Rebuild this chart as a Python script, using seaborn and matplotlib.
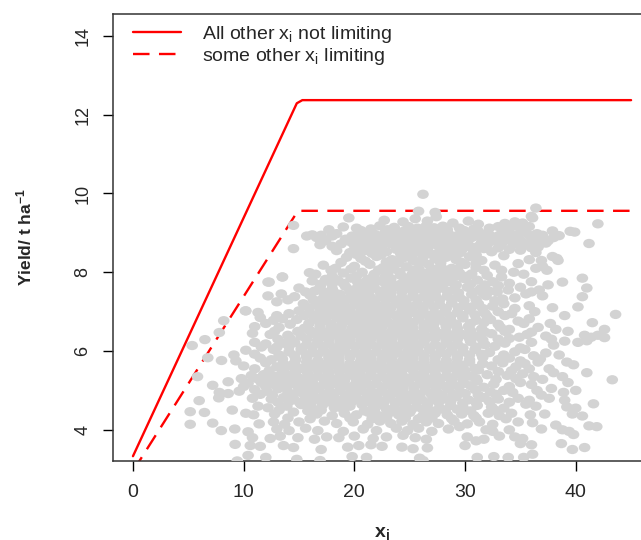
import matplotlib
matplotlib.use("Agg")
import pandas as pd
import matplotlib.pyplot as plt
import seaborn as sns
from matplotlib.path import Path
from matplotlib.markers import MarkerStyle

# boundary lines
solid_x = [0, 14.8, 15.3, 45]
solid_y = [3.33, 12.29, 12.37, 12.37]
dashed_x = [0, 14.9, 45]
dashed_y = [2.95, 9.56, 9.56]

legend_labels = [r"All other x$_\mathregular{i}$ not limiting",
                 r"some other x$_\mathregular{i}$ limiting"]
x_ticks = [0, 10, 20, 30, 40]
y_ticks = [4, 6, 8, 10, 12, 14]

# scatter points, estimated band by band (x, yield)
pts_top = [
    (19.5, 9.38), (22.7, 9.32), (24.4, 9.28), (25.5, 9.36), (26.6, 9.30), (27.4, 9.41), (28.9, 9.25), (30.3, 9.30),
    (31.2, 9.22), (33.6, 9.24), (34.5, 9.28), (35.2, 9.25), (36.1, 9.38),
    (17.7, 9.08), (19.0, 9.15), (20.2, 9.12), (21.5, 9.10), (22.3, 9.18), (23.6, 9.14), (24.9, 9.16), (25.7, 9.12),
    (26.5, 9.18), (27.2, 9.13), (28.0, 9.17), (29.5, 9.12), (30.8, 9.10), (32.2, 9.12), (33.0, 9.16), (34.1, 9.14),
    (35.0, 9.12), (35.8, 9.16), (37.9, 9.05),
    (20.6, 9.06), (23.0, 9.08), (24.6, 9.06), (26.2, 9.10), (27.0, 9.04), (28.4, 9.08), (29.9, 9.06), (31.2, 9.04),
    (33.8, 9.06), (35.4, 9.10),
    (16.2, 8.95), (18.4, 8.98), (19.8, 8.92), (20.8, 9.00), (21.9, 8.96), (22.8, 9.02), (23.4, 8.94), (24.2, 9.02),
    (25.0, 8.97), (25.9, 9.00), (26.8, 8.95), (27.6, 9.02), (28.5, 8.98), (29.3, 8.93), (30.1, 9.00), (31.5, 8.97),
    (32.3, 8.93), (33.4, 9.00), (34.6, 8.95), (35.4, 9.02), (36.5, 8.98), (37.0, 8.94), (38.5, 8.93),
    (17.0, 8.94), (18.0, 8.92), (20.0, 8.90), (21.5, 8.94), (22.4, 8.90), (23.7, 8.92), (24.5, 8.94), (25.3, 8.90),
    (26.1, 8.92), (27.0, 8.90), (27.8, 8.94), (28.6, 8.92), (29.5, 8.90), (30.9, 8.92), (31.8, 8.90), (33.1, 8.94),
    (34.2, 8.90), (35.8, 8.94), (36.8, 8.88),
    (15.7, 8.92), (16.6, 8.88), (17.4, 8.80), (19.2, 8.84), (20.4, 8.86), (21.2, 8.82), (22.1, 8.88), (23.0, 8.84),
    (23.9, 8.86), (24.7, 8.82), (25.5, 8.86), (26.3, 8.83), (27.1, 8.87), (27.9, 8.82), (28.8, 8.85), (29.8, 8.83),
    (30.6, 8.88), (31.9, 8.84), (32.7, 8.80), (33.8, 8.86), (34.9, 8.84), (36.1, 8.86), (37.5, 8.80), (38.0, 8.88),
    (19.6, 8.78), (20.9, 8.76), (21.8, 8.78), (22.7, 8.76), (23.6, 8.78), (24.4, 8.76), (25.9, 8.78), (26.7, 8.76),
    (28.5, 8.78), (29.4, 8.76), (30.0, 8.78), (31.5, 8.76), (32.2, 8.78), (33.4, 8.76), (34.2, 8.80), (35.2, 8.76),
    (36.4, 8.78),
    (16.9, 8.70), (18.0, 8.66), (18.8, 8.72), (20.0, 8.68), (21.6, 8.72), (22.5, 8.68), (23.3, 8.72), (24.3, 8.68),
    (25.1, 8.70), (26.0, 8.66), (26.9, 8.72), (27.5, 8.68), (28.3, 8.72), (29.1, 8.66), (30.3, 8.70), (31.2, 8.66),
    (32.0, 8.70), (33.2, 8.68), (34.4, 8.72), (35.6, 8.70), (36.6, 8.64), (37.3, 8.74),
    (20.5, 8.62), (21.3, 8.60), (22.0, 8.62), (24.0, 8.60), (25.5, 8.62), (26.6, 8.60), (28.0, 8.62), (29.8, 8.60),
    (30.6, 8.62), (31.7, 8.60), (33.0, 8.62), (34.0, 8.58), (36.0, 8.62),
    (18.4, 8.55), (19.6, 8.50), (21.0, 8.55), (22.9, 8.52), (23.8, 8.58), (24.8, 8.55), (25.7, 8.52), (26.5, 8.56),
    (27.7, 8.52), (28.7, 8.58), (29.6, 8.50), (30.8, 8.55), (32.4, 8.52), (35.0, 8.56), (36.4, 8.50),
]

pts_upper = [
    (20.2, 8.45), (21.6, 8.48), (22.4, 8.44), (24.2, 8.46), (25.2, 8.44), (27.0, 8.46), (28.0, 8.44), (29.0, 8.46),
    (31.0, 8.44), (33.5, 8.42), (37.9, 8.40),
    (19.3, 8.38), (20.6, 8.35), (22.0, 8.40), (23.4, 8.32), (24.4, 8.36), (25.3, 8.30), (26.2, 8.38), (27.3, 8.34),
    (28.3, 8.38), (29.2, 8.32), (30.4, 8.40), (31.5, 8.30), (35.8, 8.32), (38.3, 8.35), (38.4, 8.30), (36.9, 8.30),
    (18.8, 8.25), (21.0, 8.28), (22.9, 8.26), (24.0, 8.24), (25.8, 8.26), (27.8, 8.24), (29.6, 8.26), (31.0, 8.24),
    (34.8, 8.22), (32.7, 8.18),
    (17.2, 8.18), (18.3, 8.10), (20.0, 8.15), (21.4, 8.20), (22.6, 8.12), (23.6, 8.18), (24.7, 8.14), (25.8, 8.10),
    (26.7, 8.20), (27.8, 8.15), (28.8, 8.10), (30.0, 8.20), (31.0, 8.12), (36.4, 8.10), (37.0, 8.15),
    (17.9, 8.05), (19.7, 8.08), (22.2, 8.06), (23.4, 8.08), (25.3, 8.06), (27.0, 8.08), (28.1, 8.06), (29.3, 8.08),
    (31.7, 8.05), (33.3, 8.05), (34.4, 8.00), (37.4, 8.05),
    (15.95, 7.99), (16.5, 7.95), (19.0, 7.98), (20.7, 8.00), (21.8, 7.95), (23.0, 7.98), (24.1, 8.00), (25.2, 7.94),
    (26.3, 7.98), (27.4, 8.00), (28.4, 7.95), (29.5, 7.98), (30.6, 7.96), (32.0, 7.92), (35.3, 7.95),
    (18.0, 7.90), (20.2, 7.90), (21.7, 7.88), (22.8, 7.90), (24.2, 7.92), (25.1, 7.88), (26.0, 7.90), (27.0, 7.92),
    (28.1, 7.88), (29.2, 7.90), (30.2, 7.90), (33.3, 7.88),
    (13.5, 7.88), (16.2, 7.78), (17.4, 7.82), (18.5, 7.80), (19.7, 7.85), (20.3, 7.75), (21.2, 7.82), (22.3, 7.78),
    (23.3, 7.84), (24.6, 7.80), (25.6, 7.76), (26.5, 7.82), (27.6, 7.80), (28.7, 7.76), (29.9, 7.84), (31.1, 7.80),
    (32.5, 7.76), (34.0, 7.72), (36.0, 7.76), (38.8, 7.75),
    (17.0, 7.70), (18.0, 7.70), (19.0, 7.72), (20.6, 7.68), (21.7, 7.70), (22.8, 7.72), (23.6, 7.68), (24.2, 7.70),
    (25.2, 7.72), (26.1, 7.68), (27.1, 7.70), (28.1, 7.72), (29.2, 7.68), (30.5, 7.70), (31.8, 7.68), (33.0, 7.66),
    (35.0, 7.62), (37.5, 7.68),
    (12.3, 7.75), (15.0, 7.60), (16.9, 7.62), (18.0, 7.58), (19.2, 7.64), (20.0, 7.56), (20.9, 7.62), (21.8, 7.60),
    (22.9, 7.58), (23.8, 7.64), (24.8, 7.60), (25.9, 7.58), (26.9, 7.64), (27.9, 7.60), (29.0, 7.56), (30.2, 7.62),
    (31.4, 7.58), (41.0, 7.60),
    (15.6, 7.50), (16.4, 7.52), (17.2, 7.50), (18.2, 7.48), (19.6, 7.52), (20.4, 7.48), (21.3, 7.50), (22.3, 7.52),
    (23.3, 7.48), (24.3, 7.50), (25.3, 7.52), (26.4, 7.48), (27.3, 7.50), (28.4, 7.52), (29.4, 7.48), (30.7, 7.50),
    (31.6, 7.48), (32.2, 7.52), (32.9, 7.50), (33.9, 7.55), (36.0, 7.50), (36.7, 7.55), (35.5, 7.45),
]

pts_middle = [
    (12.2, 7.40), (13.4, 7.45), (14.6, 7.38), (16.0, 7.42), (17.6, 7.40), (18.7, 7.44), (19.6, 7.36), (20.5, 7.42),
    (21.4, 7.38), (22.4, 7.44), (23.3, 7.40), (24.3, 7.36), (25.3, 7.42), (26.3, 7.38), (27.3, 7.42), (28.4, 7.40),
    (29.5, 7.36), (30.6, 7.44), (31.9, 7.40), (34.5, 7.35), (37.0, 7.40), (40.6, 7.38),
    (14.0, 7.30), (16.3, 7.30), (17.1, 7.32), (18.0, 7.28), (18.9, 7.30), (19.8, 7.32), (20.8, 7.28), (21.8, 7.30),
    (22.8, 7.32), (23.7, 7.28), (24.7, 7.30), (25.7, 7.32), (26.7, 7.28), (27.7, 7.30), (28.8, 7.32), (29.9, 7.28),
    (31.0, 7.30), (32.7, 7.28), (33.4, 7.32),
    (13.0, 7.25), (15.4, 7.20), (16.6, 7.16), (17.4, 7.22), (18.2, 7.18), (19.1, 7.24), (20.1, 7.20), (21.0, 7.16),
    (21.9, 7.22), (22.8, 7.18), (23.8, 7.22), (24.8, 7.16), (25.7, 7.20), (26.7, 7.24), (27.7, 7.18), (28.8, 7.22),
    (29.9, 7.16), (31.2, 7.20), (32.5, 7.14), (33.5, 7.20), (35.8, 7.15), (37.9, 7.10), (40.2, 7.12),
    (15.9, 7.10), (16.9, 7.08), (17.8, 7.10), (18.7, 7.12), (19.6, 7.08), (20.6, 7.10), (21.5, 7.12), (22.3, 7.08),
    (23.3, 7.10), (24.3, 7.12), (25.2, 7.08), (26.2, 7.10), (27.2, 7.12), (28.3, 7.08), (29.4, 7.10), (30.6, 7.12),
    (31.6, 7.08), (34.5, 7.08),
    (10.2, 7.02), (11.3, 6.98), (14.1, 6.95), (15.0, 7.02), (16.0, 6.96), (17.0, 7.02), (17.9, 6.98), (18.8, 7.04),
    (19.7, 6.96), (20.6, 7.02), (21.5, 6.98), (22.4, 7.04), (23.3, 6.96), (24.3, 7.02), (25.3, 6.98), (26.2, 7.04),
    (27.2, 6.96), (28.2, 7.02), (29.3, 6.98), (30.4, 7.04), (31.8, 6.96), (33.0, 7.00), (34.2, 6.95), (36.3, 7.00),
    (39.0, 6.90), (43.6, 6.93),
    (13.0, 6.90), (15.5, 6.90), (16.6, 6.92), (17.5, 6.88), (18.3, 6.90), (19.3, 6.92), (20.1, 6.88), (21.1, 6.90),
    (22.0, 6.92), (22.9, 6.88), (23.9, 6.90), (24.8, 6.92), (25.8, 6.88), (26.7, 6.90), (27.7, 6.92), (28.7, 6.88),
    (29.8, 6.90), (30.9, 6.92), (32.0, 6.88), (33.6, 6.90),
    (8.2, 6.77), (11.5, 6.85), (12.7, 6.78), (13.5, 6.82), (14.8, 6.80), (16.4, 6.82), (17.4, 6.78), (18.4, 6.84),
    (19.3, 6.78), (20.2, 6.82), (21.1, 6.76), (22.0, 6.82), (22.9, 6.78), (23.9, 6.84), (24.8, 6.78), (25.8, 6.82),
    (26.8, 6.76), (27.7, 6.82), (28.7, 6.78), (29.8, 6.84), (31.0, 6.78), (32.3, 6.80), (34.8, 6.76), (35.8, 6.82),
    (37.7, 6.70), (41.5, 6.72),
    (12.0, 6.70), (14.2, 6.68), (15.9, 6.70), (16.9, 6.72), (17.9, 6.68), (18.9, 6.70), (19.8, 6.72), (20.7, 6.68),
    (21.6, 6.70), (22.5, 6.72), (23.4, 6.68), (24.3, 6.70), (25.3, 6.72), (26.3, 6.68), (27.2, 6.70), (28.2, 6.72),
    (29.2, 6.68), (30.5, 6.70), (31.7, 6.72), (33.0, 6.68), (35.3, 6.70),
    (11.0, 6.62), (13.2, 6.60), (15.5, 6.58), (16.9, 6.62), (17.9, 6.56), (18.8, 6.62), (19.8, 6.58), (20.7, 6.64),
    (21.6, 6.56), (22.5, 6.62), (23.5, 6.58), (24.4, 6.64), (25.3, 6.58), (26.3, 6.62), (27.2, 6.56), (28.3, 6.62),
    (29.3, 6.58), (30.3, 6.62), (31.5, 6.56), (33.2, 6.60), (34.0, 6.55), (36.6, 6.60), (38.2, 6.55), (39.3, 6.50),
    (42.6, 6.55),
    (12.8, 6.50), (14.9, 6.50), (16.0, 6.52), (16.8, 6.48), (17.7, 6.50), (18.7, 6.52), (19.6, 6.48), (20.6, 6.50),
    (21.5, 6.52), (22.5, 6.48), (23.4, 6.50), (24.4, 6.52), (25.3, 6.48), (26.3, 6.50), (27.3, 6.52), (28.3, 6.48),
    (29.3, 6.50), (30.5, 6.52), (31.8, 6.48), (33.6, 6.50), (36.0, 6.48),
    (7.8, 6.47), (10.8, 6.45), (12.4, 6.42), (14.0, 6.40), (15.2, 6.38), (16.2, 6.44), (17.2, 6.38), (18.2, 6.42),
    (19.2, 6.38), (20.1, 6.44), (21.0, 6.38), (22.0, 6.42), (23.0, 6.36), (23.9, 6.44), (24.9, 6.38), (25.8, 6.42),
    (26.8, 6.36), (27.8, 6.44), (28.8, 6.38), (29.8, 6.42), (31.0, 6.38), (32.4, 6.44), (34.9, 6.35), (35.6, 6.42),
    (37.3, 6.38), (40.8, 6.40), (41.4, 6.35), (42.0, 6.40), (42.6, 6.34),
    (13.1, 6.30), (14.2, 6.32), (15.7, 6.30), (16.7, 6.28), (17.7, 6.30), (18.7, 6.32), (19.6, 6.28), (20.6, 6.30),
    (21.5, 6.32), (22.5, 6.28), (23.4, 6.30), (24.4, 6.32), (25.3, 6.28), (26.3, 6.30), (27.3, 6.32), (28.3, 6.28),
    (29.3, 6.30), (30.4, 6.32), (31.6, 6.28), (33.0, 6.30), (34.0, 6.32), (37.8, 6.30),
    (6.5, 6.29), (5.35, 6.14), (11.0, 6.22), (12.0, 6.18), (13.6, 6.20), (14.6, 6.22), (15.7, 6.16), (16.7, 6.22),
    (17.7, 6.18), (18.7, 6.24), (19.6, 6.16), (20.6, 6.22), (21.5, 6.18), (22.5, 6.24), (23.5, 6.16), (24.4, 6.22),
    (25.4, 6.18), (26.3, 6.24), (27.3, 6.16), (28.3, 6.22), (29.3, 6.18), (30.5, 6.24), (31.8, 6.16), (33.6, 6.20),
    (36.0, 6.22), (38.0, 6.15), (39.0, 6.25), (40.2, 6.22), (41.0, 6.26),
    (11.6, 6.10), (13.0, 6.10), (14.1, 6.12), (15.2, 6.08), (16.2, 6.10), (17.2, 6.12), (18.2, 6.08), (19.1, 6.10),
    (20.1, 6.12), (21.0, 6.08), (22.0, 6.10), (23.0, 6.12), (23.9, 6.08), (24.9, 6.10), (25.8, 6.12), (26.8, 6.08),
    (27.8, 6.10), (28.8, 6.12), (29.8, 6.08), (31.0, 6.10), (32.7, 6.12), (35.0, 6.08),
    (10.2, 6.02), (12.7, 6.04), (14.1, 5.98), (15.2, 6.02), (16.2, 5.96), (17.2, 6.02), (18.2, 5.98), (19.1, 6.04),
    (20.1, 5.96), (21.0, 6.02), (22.0, 5.98), (23.0, 6.04), (23.9, 5.96), (24.9, 6.02), (25.8, 5.98), (26.8, 6.04),
    (27.8, 5.96), (28.8, 6.02), (29.8, 5.98), (30.9, 6.04), (32.2, 5.96), (34.5, 5.98), (35.4, 6.04), (37.3, 5.95),
    (38.5, 5.90),
]

pts_lower = [
    (9.12, 5.90), (11.0, 5.92), (13.2, 5.90), (14.6, 5.88), (15.7, 5.90), (16.7, 5.92), (17.7, 5.88), (18.6, 5.90),
    (19.6, 5.92), (20.6, 5.88), (21.5, 5.90), (22.5, 5.92), (23.4, 5.88), (24.4, 5.90), (25.3, 5.92), (26.3, 5.88),
    (27.3, 5.90), (28.3, 5.92), (29.3, 5.88), (30.4, 5.90), (31.5, 5.92), (33.5, 5.90), (36.2, 5.88),
    (6.76, 5.83), (8.0, 5.76), (9.3, 5.75), (11.5, 5.82), (12.5, 5.78), (13.5, 5.80), (14.7, 5.78), (15.7, 5.84),
    (16.7, 5.76), (17.7, 5.82), (18.6, 5.78), (19.6, 5.84), (20.6, 5.76), (21.5, 5.82), (22.5, 5.78), (23.4, 5.84),
    (24.4, 5.76), (25.3, 5.82), (26.3, 5.78), (27.3, 5.84), (28.3, 5.76), (29.3, 5.82), (30.4, 5.78), (31.6, 5.84),
    (33.0, 5.78), (34.0, 5.82), (35.0, 5.75), (36.8, 5.80), (39.2, 5.72), (39.8, 5.65),
    (12.0, 5.70), (13.6, 5.68), (14.6, 5.70), (15.7, 5.72), (16.7, 5.68), (17.6, 5.70), (18.6, 5.72), (19.6, 5.68),
    (20.5, 5.70), (21.5, 5.72), (22.4, 5.68), (23.4, 5.70), (24.3, 5.72), (25.3, 5.68), (26.3, 5.70), (27.3, 5.72),
    (28.3, 5.68), (29.3, 5.70), (30.4, 5.72), (31.6, 5.68), (33.4, 5.70), (35.4, 5.68), (36.6, 5.72),
    (10.0, 5.62), (11.0, 5.55), (13.0, 5.60), (14.2, 5.62), (15.2, 5.56), (16.2, 5.62), (17.2, 5.58), (18.1, 5.64),
    (19.1, 5.56), (20.1, 5.62), (21.0, 5.58), (22.0, 5.64), (22.9, 5.56), (23.9, 5.62), (24.8, 5.58), (25.8, 5.64),
    (26.8, 5.56), (27.8, 5.62), (28.8, 5.58), (29.8, 5.64), (30.9, 5.56), (32.4, 5.62), (34.6, 5.60), (35.8, 5.55),
    (37.6, 5.55), (41.0, 5.45),
    (12.3, 5.50), (13.5, 5.52), (14.7, 5.48), (15.7, 5.50), (16.7, 5.52), (17.6, 5.48), (18.6, 5.50), (19.6, 5.52),
    (20.5, 5.48), (21.5, 5.50), (22.4, 5.52), (23.4, 5.48), (24.3, 5.50), (25.3, 5.52), (26.3, 5.48), (27.3, 5.50),
    (28.3, 5.52), (29.3, 5.48), (30.0, 5.50), (31.2, 5.52), (33.0, 5.48), (34.2, 5.50), (38.0, 5.45),
    (5.83, 5.35), (7.2, 5.13), (9.8, 5.30), (10.7, 5.38), (11.8, 5.40), (12.9, 5.36), (13.8, 5.42), (14.8, 5.36),
    (15.8, 5.42), (16.7, 5.36), (17.7, 5.42), (18.7, 5.36), (19.6, 5.42), (20.6, 5.36), (21.5, 5.42), (22.5, 5.36),
    (23.5, 5.42), (24.4, 5.36), (25.4, 5.42), (26.3, 5.36), (27.3, 5.42), (28.3, 5.36), (29.3, 5.42), (30.5, 5.36),
    (32.0, 5.40), (33.8, 5.38), (35.2, 5.42), (36.2, 5.35), (38.8, 5.35), (43.3, 5.27),
    (11.2, 5.30), (12.3, 5.28), (13.3, 5.30), (14.2, 5.32), (15.2, 5.28), (16.2, 5.30), (17.2, 5.32), (18.1, 5.28),
    (19.1, 5.30), (20.1, 5.32), (21.0, 5.28), (22.0, 5.30), (23.0, 5.32), (23.9, 5.28), (24.9, 5.30), (25.8, 5.32),
    (26.8, 5.28), (27.8, 5.30), (28.8, 5.32), (29.8, 5.28), (31.0, 5.30), (32.8, 5.28), (34.6, 5.30), (37.0, 5.28),
    (8.6, 5.22), (10.4, 5.18), (11.6, 5.20), (12.6, 5.16), (13.5, 5.22), (14.4, 5.18), (15.3, 5.24), (16.3, 5.16),
    (17.3, 5.22), (18.2, 5.18), (19.1, 5.24), (20.1, 5.16), (21.0, 5.22), (22.0, 5.18), (23.0, 5.24), (23.9, 5.16),
    (24.9, 5.22), (25.9, 5.18), (26.9, 5.24), (27.8, 5.16), (28.8, 5.22), (29.9, 5.18), (31.1, 5.24), (32.6, 5.16),
    (35.0, 5.20), (36.0, 5.15), (39.3, 5.20),
    (10.0, 5.10), (12.0, 5.10), (13.0, 5.12), (13.9, 5.08), (14.9, 5.10), (15.8, 5.12), (16.8, 5.08), (17.7, 5.10),
    (18.7, 5.12), (19.6, 5.08), (20.6, 5.10), (21.5, 5.12), (22.5, 5.08), (23.4, 5.10), (24.4, 5.12), (25.4, 5.08),
    (26.4, 5.10), (27.3, 5.12), (28.3, 5.08), (29.4, 5.10), (30.5, 5.12), (31.7, 5.08), (34.0, 5.10), (37.8, 5.05),
    (7.8, 4.95), (9.6, 4.98), (11.0, 5.02), (12.1, 4.98), (13.1, 5.04), (14.0, 4.96), (15.0, 5.02), (15.9, 4.98),
    (16.8, 5.04), (17.8, 4.96), (18.7, 5.02), (19.7, 4.98), (20.6, 5.04), (21.6, 4.96), (22.5, 5.02), (23.5, 4.98),
    (24.4, 5.04), (25.4, 4.96), (26.4, 5.02), (27.4, 4.98), (28.5, 5.04), (29.6, 4.96), (30.9, 5.02), (32.3, 4.96),
    (33.5, 5.00), (34.3, 4.95), (36.5, 5.00), (38.9, 4.95), (40.0, 5.00),
    (11.5, 4.90), (12.6, 4.88), (14.5, 4.90), (15.4, 4.92), (16.3, 4.88), (17.3, 4.90), (18.2, 4.92), (19.2, 4.88),
    (20.1, 4.90), (21.1, 4.92), (22.0, 4.88), (23.0, 4.90), (24.0, 4.92), (24.9, 4.88), (25.9, 4.90), (26.9, 4.92),
    (27.9, 4.88), (28.9, 4.90), (30.0, 4.92), (31.2, 4.88), (32.8, 4.90), (36.9, 4.88),
    (5.98, 4.74), (7.75, 4.81), (8.6, 4.92), (10.8, 4.80), (12.5, 4.78), (13.6, 4.82), (14.6, 4.76), (15.6, 4.82),
    (16.6, 4.78), (17.5, 4.84), (18.4, 4.76), (19.3, 4.82), (20.3, 4.78), (21.2, 4.84), (22.2, 4.76), (23.2, 4.82),
    (24.2, 4.78), (25.1, 4.84), (26.1, 4.76), (27.1, 4.82), (28.1, 4.78), (29.2, 4.84), (30.3, 4.76), (31.7, 4.82),
    (33.0, 4.78), (34.8, 4.80), (35.8, 4.75), (37.6, 4.80), (39.0, 4.75),
    (13.1, 4.70), (14.1, 4.72), (15.1, 4.68), (16.1, 4.70), (17.1, 4.72), (18.0, 4.68), (18.9, 4.70), (19.8, 4.72),
    (20.8, 4.68), (21.7, 4.70), (22.7, 4.72), (23.7, 4.68), (24.7, 4.70), (25.6, 4.72), (26.6, 4.68), (27.6, 4.70),
    (28.7, 4.72), (29.8, 4.68), (31.0, 4.70), (32.2, 4.72), (34.0, 4.70),
    (11.3, 4.60), (12.2, 4.56), (13.9, 4.60), (15.2, 4.64), (16.1, 4.58), (17.1, 4.62), (18.2, 4.56), (19.6, 4.60),
    (20.7, 4.64), (21.7, 4.58), (22.6, 4.62), (23.6, 4.56), (24.6, 4.62), (25.6, 4.58), (26.6, 4.64), (27.7, 4.56),
    (28.7, 4.62), (29.8, 4.58), (31.1, 4.62), (32.4, 4.58), (33.5, 4.55), (35.5, 4.65), (36.4, 4.60), (39.2, 4.58),
    (40.0, 4.55), (41.6, 4.66),
    (8.97, 4.50), (13.2, 4.50), (15.8, 4.48), (17.0, 4.50), (19.0, 4.52), (20.9, 4.48), (21.8, 4.50), (22.9, 4.52),
    (24.1, 4.48), (25.1, 4.50), (26.2, 4.52), (27.0, 4.48), (28.2, 4.50), (29.3, 4.52), (30.5, 4.48), (32.7, 4.50),
]

pts_bottom = [
    (5.17, 4.46), (6.46, 4.44), (10.2, 4.42), (10.9, 4.38), (12.8, 4.40), (14.5, 4.45), (16.6, 4.40), (18.0, 4.36),
    (19.1, 4.42), (20.2, 4.38), (21.3, 4.44), (22.2, 4.36), (23.1, 4.42), (24.0, 4.38), (25.0, 4.44), (26.2, 4.36),
    (27.3, 4.42), (28.4, 4.38), (29.7, 4.40), (30.8, 4.36), (32.1, 4.42), (33.1, 4.36), (34.2, 4.42), (35.9, 4.38),
    (37.2, 4.40), (39.7, 4.40), (40.6, 4.35),
    (14.0, 4.30), (16.0, 4.28), (19.6, 4.30), (21.6, 4.28), (22.9, 4.30), (24.6, 4.30), (25.8, 4.28), (27.0, 4.30),
    (28.8, 4.28), (31.0, 4.30), (33.7, 4.28),
    (5.17, 4.14), (7.2, 4.17), (11.4, 4.15), (12.7, 4.20), (13.7, 4.14), (15.0, 4.20), (17.3, 4.22), (18.4, 4.16),
    (19.9, 4.20), (21.2, 4.14), (22.3, 4.22), (23.3, 4.16), (24.3, 4.22), (25.3, 4.14), (26.5, 4.20), (27.6, 4.16),
    (29.0, 4.22), (30.2, 4.15), (31.3, 4.20), (32.5, 4.14), (34.8, 4.20), (36.1, 4.18), (38.2, 4.12), (41.2, 4.10),
    (41.9, 4.08),
    (7.98, 3.98), (9.2, 4.02), (10.4, 3.95), (13.0, 4.02), (14.1, 3.98), (15.6, 4.04), (16.7, 3.98), (19.0, 3.96),
    (20.8, 4.02), (22.0, 3.98), (23.8, 4.04), (24.8, 3.98), (25.8, 4.04), (27.0, 3.96), (28.5, 4.02), (29.5, 4.08),
    (31.9, 4.00), (32.5, 3.96), (34.0, 4.00), (36.9, 4.02), (38.8, 4.00), (39.4, 3.96), (39.8, 3.88),
    (10.8, 3.80), (12.4, 3.78), (13.3, 3.84), (14.9, 3.80), (16.4, 3.76), (17.5, 3.82), (18.6, 3.80), (20.0, 3.84),
    (21.7, 3.78), (22.9, 3.82), (24.4, 3.86), (25.5, 3.80), (26.5, 3.76), (30.2, 3.82), (31.7, 3.76), (33.1, 3.84),
    (34.5, 3.82), (35.2, 3.78), (38.7, 3.65),
    (9.23, 3.63), (10.6, 3.60), (11.5, 3.58), (13.6, 3.60), (14.5, 3.55), (17.0, 3.50), (19.4, 3.56), (20.4, 3.60),
    (21.5, 3.62), (22.5, 3.58), (24.3, 3.56), (25.3, 3.52), (26.6, 3.54), (30.0, 3.60), (31.0, 3.72), (35.0, 3.65),
    (36.0, 3.62), (39.7, 3.50), (40.8, 3.55),
    (9.42, 3.21), (10.4, 3.35), (12.0, 3.30), (14.8, 3.25), (16.9, 3.22), (19.8, 3.32), (21.1, 3.30), (25.9, 3.28),
    (26.2, 3.22), (31.1, 3.30), (32.6, 3.32), (33.9, 3.30), (35.3, 3.30), (36.1, 3.38),
]

pts_stray = [
    (26.2, 9.98), (27.3, 9.52), (25.8, 9.55), (36.4, 9.63), (36.0, 9.42), (42.0, 9.23), (39.5, 9.04), (39.9, 9.02),
    (41.2, 8.73), (40.6, 7.85), (14.5, 9.19), (14.5, 8.60), (12.2, 7.75), (13.5, 7.88), (10.16, 7.02),
]

pts = pts_top + pts_upper + pts_middle + pts_lower + pts_bottom + pts_stray
df = pd.DataFrame(pts, columns=["x", "yield"])

sns.set_style("white")
plt.rcParams['font.family'] = ['Liberation Sans', 'DejaVu Sans']
plt.rcParams['mathtext.fontset'] = 'custom'
plt.rcParams['mathtext.rm'] = 'Liberation Sans'
plt.rcParams['mathtext.it'] = 'Liberation Sans:italic'
plt.rcParams['mathtext.bf'] = 'Liberation Sans:bold'

fig = plt.figure(figsize=(6.41, 5.40), dpi=100)
ax = fig.add_axes([0.176, 0.1463, 0.841, 0.828])

# points are a little wider than tall in the reference
circ = Path.unit_circle()
ellipse = Path(circ.vertices * [1.0, 0.8], circ.codes)

ax.plot(solid_x, solid_y, color='#FF0000', lw=1.7, label=legend_labels[0], zorder=2)
ax.plot(dashed_x, dashed_y, color='#FF0000', lw=1.7, linestyle=(0, (7, 4)), label=legend_labels[1], zorder=2)
sns.scatterplot(data=df, x="x", y="yield", ax=ax, marker=MarkerStyle(ellipse), s=70,
                color='#D3D3D3', edgecolor='none', linewidth=0, zorder=3)

ax.set_xlim(-1.82, 46.88)
ax.set_ylim(3.208, 14.56)
ax.set_xticks(x_ticks)
ax.set_yticks(y_ticks)
ax.tick_params(axis='both', direction='out', length=7.5, width=1, color='black', pad=9,
               bottom=True, left=True)
ax.tick_params(axis='x', labelsize=14)
ax.tick_params(axis='y', labelsize=13, pad=8)
for lab in ax.get_yticklabels():
    lab.set_rotation(90)
    lab.set_va('center')

for s in ax.spines.values():
    s.set_color('#333333')
    s.set_linewidth(1.1)

ax.set_xlabel(r"x$_\mathbf{i}$", fontsize=14, fontweight='bold', labelpad=17)
ax.set_ylabel(r"Yield/ t ha$^{\mathbf{-1}}$", fontsize=12.5, fontweight='bold', labelpad=29)

ax.legend(loc='upper left', bbox_to_anchor=(0.0375, 0.978), frameon=False, fontsize=14,
          handlelength=2.47, handletextpad=1.08, labelspacing=0.05, borderpad=0, borderaxespad=0)

fig.savefig("out.png", dpi=100)
